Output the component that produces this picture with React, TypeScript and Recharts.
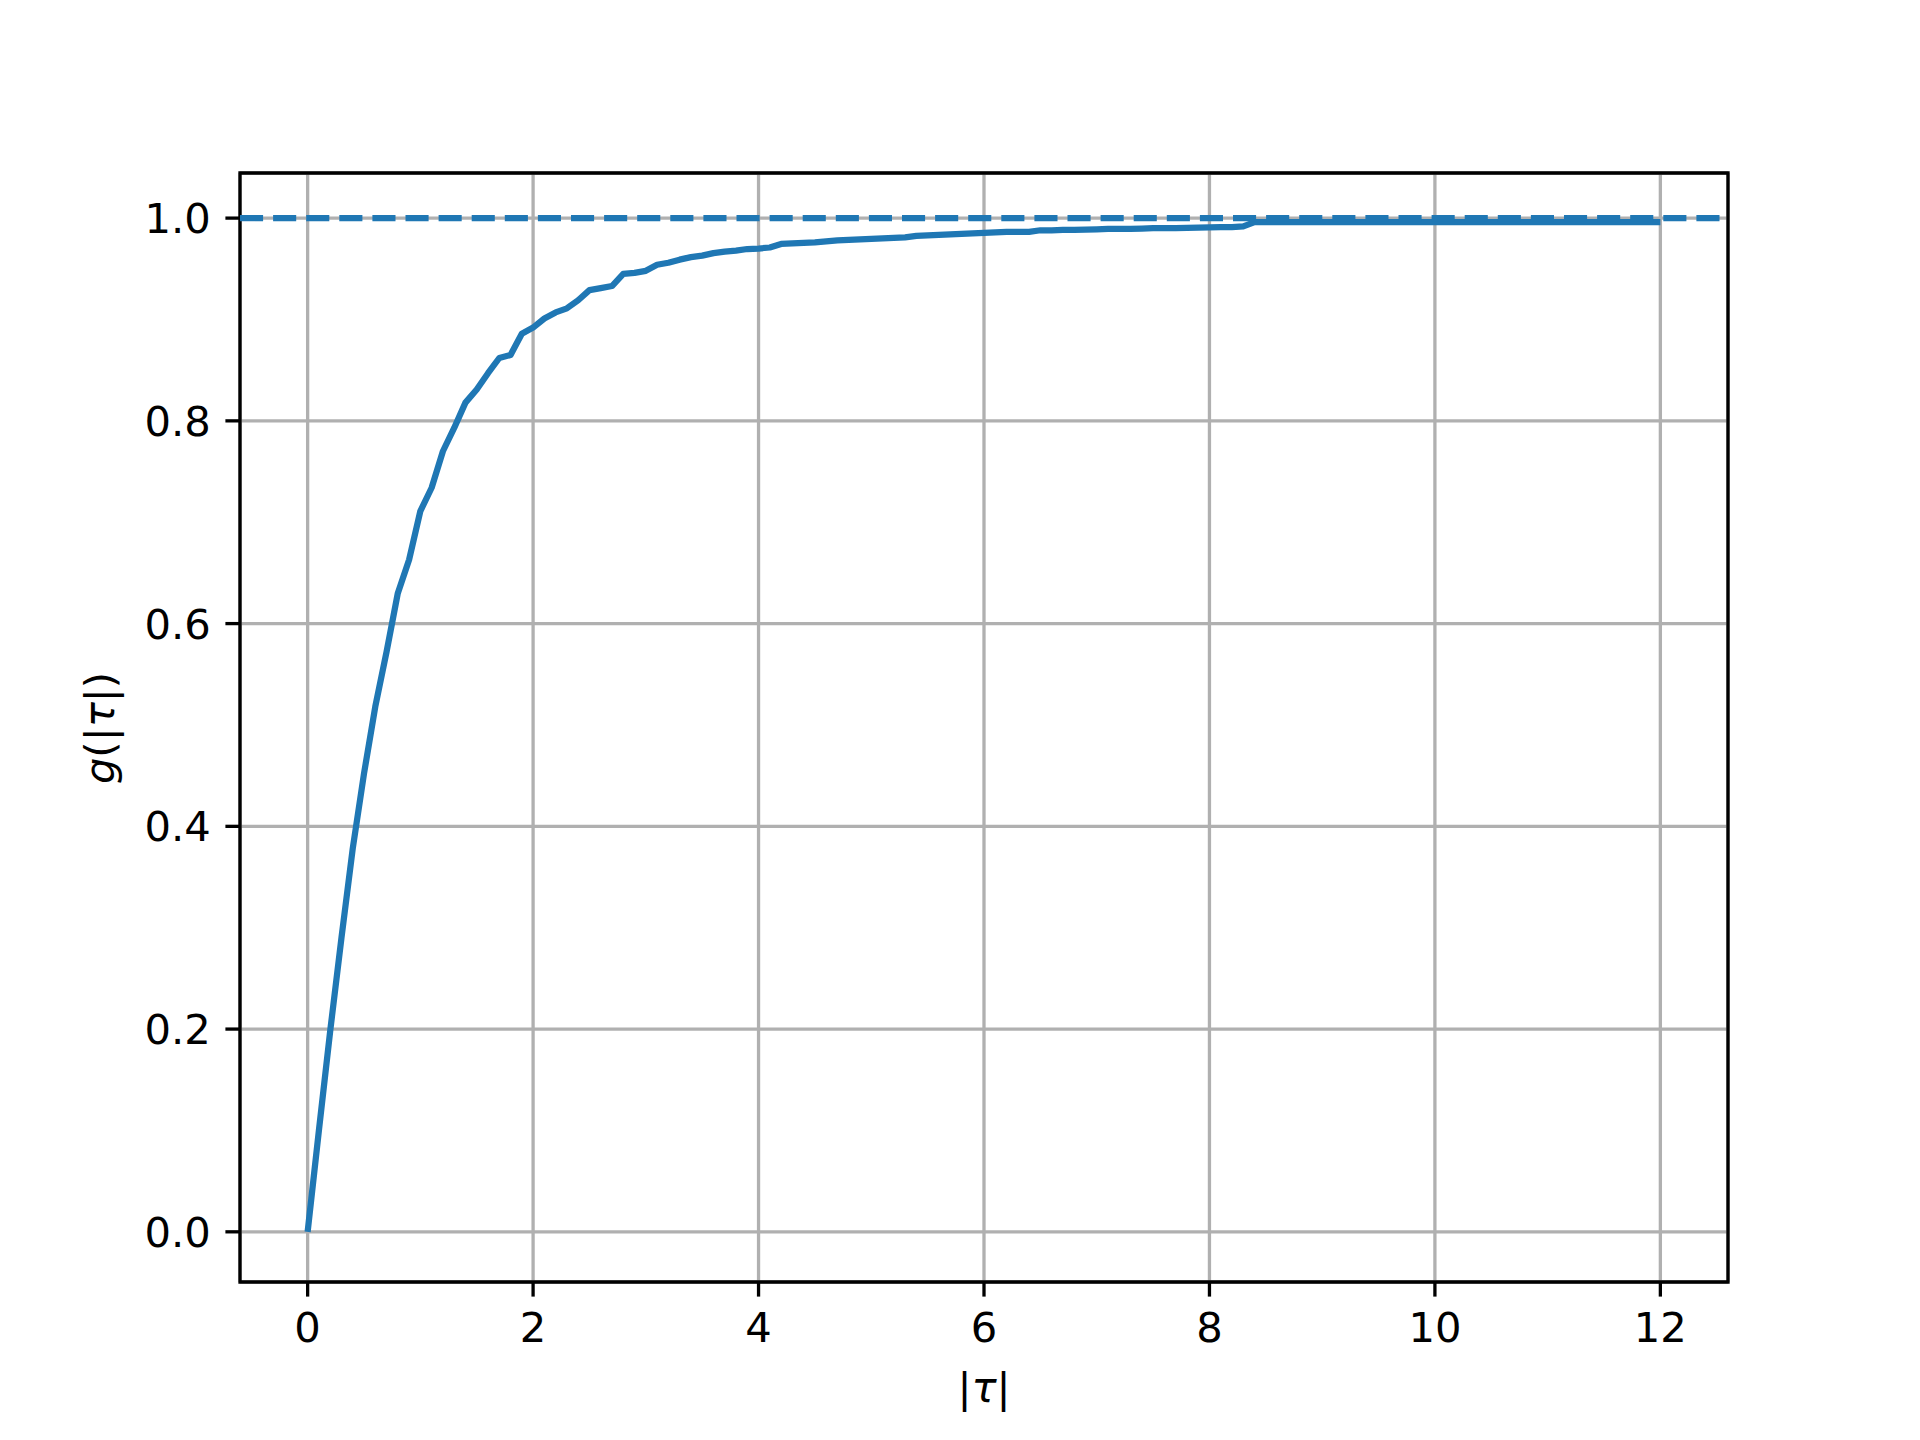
import { CartesianGrid, Label, Line, LineChart, ReferenceArea, ReferenceLine, XAxis, YAxis } from "recharts";

// sample positions |tau|
const tau = [
  0, 0.1, 0.2, 0.3, 0.4, 0.5, 0.6, 0.7, 0.8, 0.9,
  1, 1.1, 1.2, 1.3, 1.4, 1.5, 1.6, 1.7, 1.8, 1.9,
  2, 2.1, 2.2, 2.3, 2.4, 2.5, 2.6, 2.7, 2.8, 2.9,
  3, 3.1, 3.2, 3.3, 3.4, 3.5, 3.6, 3.7, 3.8, 3.9,
  4, 4.1, 4.2, 4.3, 4.4, 4.5, 4.6, 4.7, 4.8, 4.9,
  5, 5.1, 5.2, 5.3, 5.4, 5.5, 5.6, 5.7, 5.8, 5.9,
  6, 6.1, 6.2, 6.3, 6.4, 6.5, 6.6, 6.7, 6.8, 6.9,
  7, 7.1, 7.2, 7.3, 7.4, 7.5, 7.6, 7.7, 7.8, 7.9,
  8, 8.1, 8.2, 8.3, 8.4, 8.5, 8.6, 8.7, 8.8, 8.9,
  9, 9.1, 9.2, 9.3, 9.4, 9.5, 9.6, 9.7, 9.8, 9.9,
  10, 10.1, 10.2, 10.3, 10.4, 10.5, 10.6, 10.7, 10.8, 10.9,
  11, 11.1, 11.2, 11.3, 11.4, 11.5, 11.6, 11.7, 11.8, 11.9,
  12,
];

// g(|tau|)
const g = [
  0, 0.1, 0.198, 0.29, 0.378, 0.452, 0.518, 0.572, 0.63, 0.663,
  0.711, 0.734, 0.77, 0.793, 0.818, 0.831, 0.847, 0.862, 0.865, 0.886,
  0.892, 0.901, 0.907, 0.911, 0.919, 0.929, 0.931, 0.933, 0.945, 0.946,
  0.948, 0.954, 0.956, 0.959, 0.9615, 0.963, 0.9655, 0.967, 0.968, 0.9695,
  0.97, 0.971, 0.9745, 0.975, 0.9755, 0.976, 0.977, 0.978, 0.9785, 0.979,
  0.9795, 0.98, 0.9805, 0.981, 0.9825, 0.983, 0.9835, 0.984, 0.9845, 0.985,
  0.9855, 0.986, 0.9865, 0.9865, 0.9865, 0.988, 0.988, 0.9883, 0.9885, 0.9887,
  0.989, 0.9895, 0.9895, 0.9895, 0.9897, 0.99, 0.9902, 0.9902, 0.9904, 0.9906,
  0.9908, 0.991, 0.9912, 0.9918, 0.996, 0.996, 0.996, 0.996, 0.996, 0.996,
  0.996, 0.996, 0.996, 0.996, 0.996, 0.996, 0.996, 0.996, 0.996, 0.996,
  0.996, 0.996, 0.996, 0.996, 0.996, 0.996, 0.996, 0.996, 0.996, 0.996,
  0.996, 0.996, 0.996, 0.996, 0.996, 0.996, 0.996, 0.996, 0.996, 0.996,
  0.996,
];

const xTicks = [0, 2, 4, 6, 8, 10, 12];
const yTicks = [0, 0.2, 0.4, 0.6, 0.8, 1.0];
const limitValue = 1.0;

const xDomain: [number, number] = [-0.6, 12.6];
const yDomain: [number, number] = [-0.0495, 1.0445];

const rows = tau.map((t, i) => ({ tau: t, g: g[i] }));

const BLUE = "#1f77b4";
const FONT = "'DejaVu Sans', sans-serif";
const FS = 41.7;

function XTick(props: any) {
  return (
    <text x={props.x} y={props.y} dy={31} textAnchor="middle" fontFamily={FONT} fontSize={FS} fill="#000">
      {props.payload.value}
    </text>
  );
}

function YTick(props: any) {
  return (
    <text x={props.x} y={props.y} dy={15} textAnchor="end" fontFamily={FONT} fontSize={FS} fill="#000">
      {Number(props.payload.value).toFixed(1)}
    </text>
  );
}

export default function App() {
  return (
    <div style={{ width: 1920, height: 1440, background: "#fff" }}>
      <style>{`body{margin:0}`}</style>
      <LineChart width={1920} height={1440} data={rows} margin={{ top: 173, right: 192, bottom: 98, left: 150 }}>
        <CartesianGrid stroke="#b0b0b0" strokeWidth={3.3} fill="none" />
        <XAxis
          dataKey="tau"
          type="number"
          domain={xDomain}
          ticks={xTicks}
          allowDataOverflow
          height={60}
          axisLine={false}
          tickLine={{ stroke: "#000", strokeWidth: 3.3 }}
          tickSize={14.6}
          tickMargin={14.6}
          tick={XTick}
          interval={0}
        >
          <Label
            content={() => (
              <text x={984} y={1402} textAnchor="middle" fontFamily={FONT} fontSize={FS} fill="#000">
                |<tspan fontStyle="italic">τ</tspan>|
              </text>
            )}
          />
        </XAxis>
        <YAxis
          type="number"
          domain={yDomain}
          ticks={yTicks}
          allowDataOverflow
          width={90}
          axisLine={false}
          tickLine={{ stroke: "#000", strokeWidth: 3.3 }}
          tickSize={14.6}
          tickMargin={14.6}
          tick={YTick}
          interval={0}
        >
          <Label
            content={() => (
              <text
                x={0}
                y={0}
                transform="translate(114 728) rotate(-90)"
                textAnchor="middle"
                fontFamily={FONT}
                fontSize={FS}
                fill="#000"
              >
                <tspan fontStyle="italic">g</tspan>(|<tspan fontStyle="italic">τ</tspan>|)
              </text>
            )}
          />
        </YAxis>
        <Line
          dataKey="g"
          type="linear"
          stroke={BLUE}
          strokeWidth={6.25}
          strokeLinejoin="round"
          dot={false}
          activeDot={false}
          isAnimationActive={false}
        />
        <ReferenceLine y={limitValue} stroke={BLUE} strokeWidth={6.25} strokeDasharray="23.1 10" />
        <ReferenceArea
          x1={xDomain[0]}
          x2={xDomain[1]}
          y1={yDomain[0]}
          y2={yDomain[1]}
          fill="none"
          stroke="#000"
          strokeWidth={3.3}
          fillOpacity={0}
        />
      </LineChart>
    </div>
  );
}
